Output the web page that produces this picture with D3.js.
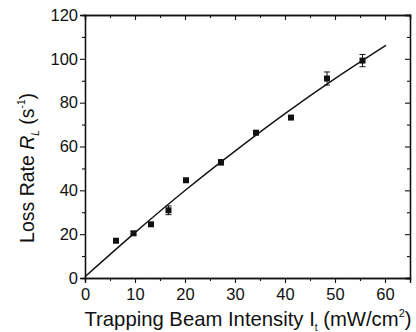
<!DOCTYPE html>
<html>
<head>
<meta charset="utf-8">
<script src="https://cdn.jsdelivr.net/npm/d3@7"></script>
<style>
  body { margin: 0; background: #fff; }
  text { font-family: "Liberation Sans", Arial, sans-serif; fill: #111; }
</style>
</head>
<body>
<div id="chart"></div>
<script>
// measured points: intensity (mW/cm^2), loss rate (1/s), error
var intensity = [6.2, 9.7, 13.2, 16.7, 20.2, 27.2, 34.2, 41.2, 48.4, 55.5];
var lossRate  = [17.0, 20.4, 24.5, 30.9, 44.6, 52.8, 66.3, 73.2, 91.0, 99.2];
var lossErr   = [0.8, 0.8, 0.8, 2.0, 0.8, 1.2, 0.8, 0.8, 3.0, 2.8];

// fit curve
var fitX = [0, 10, 20, 30, 40, 50, 60.2];
var fitY = [0.6, 20.7, 39.9, 57.9, 75.0, 91.0, 106.2];

var xTicks = [0, 10, 20, 30, 40, 50, 60];
var yTicks = [0, 20, 40, 60, 80, 100, 120];

var width = 416, height = 332;
var m = {left: 85, right: 6, top: 15, bottom: 54};

var svg = d3.select('#chart').append('svg')
    .attr('width', width)
    .attr('height', height);

var x = d3.scaleLinear().domain([0, 65]).range([m.left, width - m.right]);
var y = d3.scaleLinear().domain([0, 120]).range([height - m.bottom, m.top]);

var minorX = d3.range(5, 65, 10);
var minorY = d3.range(10, 120, 20);

// bottom axis
var gx = svg.append('g')
    .attr('transform', 'translate(0,' + y(0) + ')')
    .call(d3.axisBottom(x).tickValues(xTicks).tickSize(5).tickPadding(5).tickFormat(d3.format('d')));
gx.append('g').call(d3.axisBottom(x).tickValues(minorX).tickSize(3).tickFormat(''));

// left axis
var gy = svg.append('g')
    .attr('transform', 'translate(' + x(0) + ',0)')
    .call(d3.axisLeft(y).tickValues(yTicks).tickSize(5).tickPadding(2).tickFormat(d3.format('d')));
gy.append('g').call(d3.axisLeft(y).tickValues(minorY).tickSize(3).tickFormat(''));

// top mirror axis, ticks inward
var gt = svg.append('g')
    .attr('transform', 'translate(0,' + y(120) + ')')
    .call(d3.axisBottom(x).tickValues(xTicks).tickSize(5).tickFormat(''));
gt.append('g').call(d3.axisBottom(x).tickValues(minorX).tickSize(3).tickFormat(''));

// right mirror axis, ticks inward
var gr = svg.append('g')
    .attr('transform', 'translate(' + x(65) + ',0)')
    .call(d3.axisLeft(y).tickValues(yTicks).tickSize(5).tickFormat(''));
gr.append('g').call(d3.axisLeft(y).tickValues(minorY).tickSize(3).tickFormat(''));

svg.selectAll('.domain').attr('stroke', '#111').attr('stroke-width', 1.3);
svg.selectAll('.tick line').attr('stroke', '#111').attr('stroke-width', 1.1);
svg.selectAll('.tick text')
    .style('font-size', '16.5px')
    .style('font-family', '"Liberation Sans", Arial, sans-serif')
    .attr('fill', '#111');

// fit curve
var line = d3.line()
    .x(function(d, i) { return x(fitX[i]); })
    .y(function(d) { return y(d); })
    .curve(d3.curveNatural);

svg.append('path')
    .datum(fitY)
    .attr('d', line)
    .attr('fill', 'none')
    .attr('stroke', '#111')
    .attr('stroke-width', 1.4);

// error bars
var pts = intensity.map(function(d, i) {
  return {x: d, y: lossRate[i], e: lossErr[i]};
});

var eb = svg.append('g').attr('stroke', '#111').attr('stroke-width', 1);
eb.selectAll('.eb-v').data(pts).enter().append('line')
    .attr('x1', function(d) { return x(d.x); })
    .attr('x2', function(d) { return x(d.x); })
    .attr('y1', function(d) { return y(d.y - d.e); })
    .attr('y2', function(d) { return y(d.y + d.e); });
['top', 'bot'].forEach(function(k) {
  eb.selectAll('.eb-' + k).data(pts).enter().append('line')
      .attr('x1', function(d) { return x(d.x) - 3; })
      .attr('x2', function(d) { return x(d.x) + 3; })
      .attr('y1', function(d) { return y(k == 'top' ? d.y + d.e : d.y - d.e); })
      .attr('y2', function(d) { return y(k == 'top' ? d.y + d.e : d.y - d.e); });
});

// markers
svg.append('g').selectAll('rect').data(pts).enter().append('rect')
    .attr('x', function(d) { return x(d.x) - 3; })
    .attr('y', function(d) { return y(d.y) - 3; })
    .attr('width', 6)
    .attr('height', 6)
    .attr('fill', '#111');

// x title
var xt = svg.append('text')
    .attr('x', 248)
    .attr('y', 326)
    .attr('text-anchor', 'middle')
    .style('font-size', '20.3px');
xt.append('tspan').text('Trapping Beam Intensity I');
xt.append('tspan').text('t').style('font-size', '10px').attr('dy', 5);
xt.append('tspan').text(' (mW/cm').attr('dy', -5);
xt.append('tspan').text('2').style('font-size', '11px').attr('dy', -9);
xt.append('tspan').text(')').attr('dy', 9);

// y title
var yt = svg.append('text')
    .attr('transform', 'translate(34,168) rotate(-90)')
    .attr('text-anchor', 'middle')
    .style('font-size', '19.5px');
yt.append('tspan').text('Loss Rate ');
yt.append('tspan').text('R').style('font-style', 'italic');
yt.append('tspan').text('L').style('font-style', 'italic').style('font-size', '10px').attr('dy', 5);
yt.append('tspan').text(' (s').attr('dy', -5);
yt.append('tspan').text('-1').style('font-size', '10px').attr('dy', -9);
yt.append('tspan').text(')').attr('dy', 9);
</script>
</body>
</html>
